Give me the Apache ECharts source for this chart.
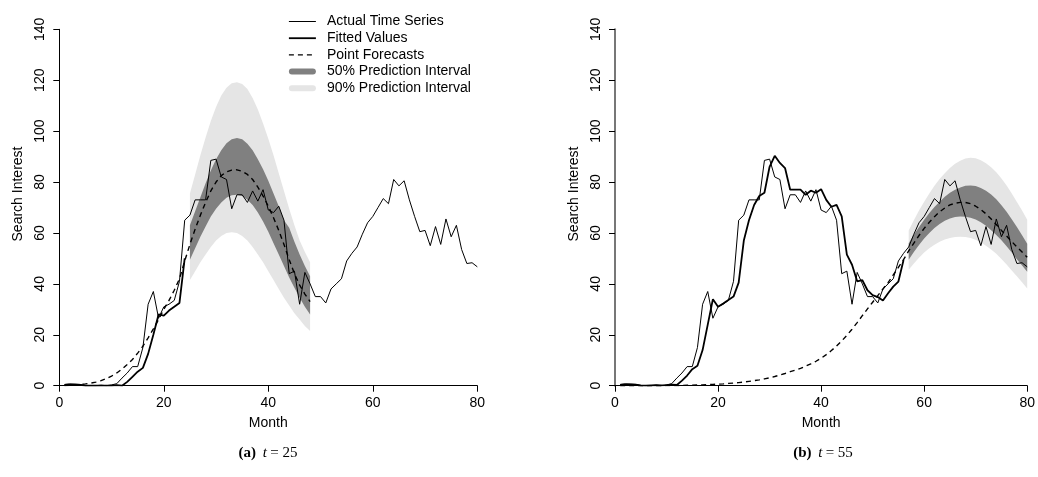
<!DOCTYPE html>
<html>
<head>
<meta charset="utf-8">
<script src="https://cdn.jsdelivr.net/npm/echarts@6/dist/echarts.min.js"></script>
<style>
  html, body { margin: 0; padding: 0; background: #fff; }
  #main { width: 1038px; height: 477px; }
</style>
</head>
<body>
<div id="main"></div>
<script>
// Search interest, months 1..80 (same series in both panels)
var actual = [0.5, 0.7, 0.6, 0.5, 0, 0, 0, 0.2, 0, 0.3,
  0.8, 3, 5, 7.5, 7.5, 15, 32, 37, 26.5, 31,
  32, 33.5, 41, 65, 67, 73, 73, 73, 88.5, 89,
  82, 81, 69.5, 75, 75, 72, 76.5, 72.5, 77, 69,
  68, 70.5, 65, 44, 45, 32, 44.5, 40, 35, 35,
  32.5, 38, 40, 42, 49, 52, 54.5, 59.5, 64, 66.5,
  70, 73.5, 71.5, 81, 78.5, 80.5, 73, 66.5, 60.5, 61,
  55, 62.5, 55.5, 65.5, 58.5, 63, 53.5, 48, 48.3, 46.7];

// panel (a): t = 25 -- fitted months 1..24, forecasts months 1..48, intervals months 25..48
var fitA = [0.3, 0.4, 0.4, 0.3, 0, 0, 0, 0, 0, 0,
  0.2, 0, 1.5, 3.5, 5.5, 7, 12.5, 20, 28, 27.5,
  29.5, 31, 32.5, 50];
var fcA = [0.1, 0.2, 0.3, 0.5, 0.7, 1, 1.4, 2, 2.8, 3.8,
  5, 6.5, 8.3, 10.3, 12.8, 15.5, 18.8, 22.3, 26, 30,
  33.5, 37.5, 42, 49, 55.5, 61.5, 67, 72, 76.5, 80,
  82.5, 84, 84.7, 84.8, 84.2, 83, 81, 78, 74.5, 70.5,
  66, 61, 55.5, 49.5, 44, 39.5, 36, 33];
var hi90A = [75.5, 83, 90.5, 97.5, 104, 109.5, 114, 117, 118.8, 119.2,
  118.5, 116.5, 113, 108.5, 103, 97, 90.5, 83.5, 76.5, 69.5,
  63, 57, 52.5, 48.5];
var lo90A = [41.5, 45, 48.5, 51.5, 54.5, 57, 58.8, 60, 60.3, 60,
  58.8, 57, 54.5, 51.5, 48.5, 45, 41.5, 38, 34.5, 31.5,
  28.5, 26, 23.5, 21.5];
var hi50A = [63, 68.5, 74, 79.5, 84.5, 89, 92.5, 95.2, 96.8, 97.3,
  96.8, 95, 92.5, 89, 85, 80.5, 75.5, 70.5, 65, 62,
  56.5, 51.5, 47, 43];
var lo50A = [49.5, 54, 58.5, 62.5, 66.5, 69.5, 72, 73.8, 74.8, 75,
  74.5, 73, 71, 68, 64.5, 60.5, 56, 51.5, 47, 42.5,
  38.5, 34.5, 31, 28];

// panel (b): t = 55 -- fitted months 1..56, forecasts months 1..80, intervals months 57..80
var fitB = [0.3, 0.5, 0.5, 0.4, 0.1, 0, 0.1, 0.2, 0.1, 0.2,
  0.4, 0.3, 2, 4, 6.5, 7.8, 14, 24, 34, 31,
  32.3, 33.7, 35, 40.5, 57, 65, 71, 74.5, 75.8, 86,
  90.3, 87.5, 85.5, 77, 77, 77, 75, 76.6, 75.8, 77.2,
  73, 70.3, 71, 66.5, 51.5, 47.5, 41, 41.5, 37.5, 35.6,
  34.8, 33.5, 36.3, 38.9, 40.9, 49.4];
var fcB = [0, 0, 0, 0, 0, 0, 0, 0, 0, 0.1,
  0.1, 0.1, 0.1, 0.2, 0.2, 0.3, 0.3, 0.4, 0.5, 0.6,
  0.7, 0.9, 1, 1.2, 1.4, 1.7, 2, 2.3, 2.7, 3.1,
  3.6, 4.2, 4.8, 5.5, 6.1, 6.8, 7.7, 8.6, 9.6, 10.8,
  12.2, 13.8, 15.6, 17.6, 19.8, 22.2, 24.8, 27.5, 30.2, 32.8,
  35.4, 38, 40.5, 43.5, 46.5, 49.5, 53, 56, 59, 61.8,
  64.2, 66.4, 68.3, 69.8, 71, 71.7, 72, 72, 71.5, 70.5,
  69.2, 67.5, 65.5, 63.3, 61, 58.8, 56.6, 54.5, 52.5, 50.5];
var hi90B = [61, 65, 68.8, 72.3, 75.5, 78.5, 81.2, 83.5, 85.5, 87.2,
  88.4, 89.2, 89.5, 89.3, 88.6, 87.4, 85.8, 83.8, 81.4, 78.6,
  75.5, 72.2, 68.8, 65.2];
var lo90B = [45.5, 48, 50.3, 52.3, 54, 55.4, 56.5, 57.4, 58, 58.4,
  58.5, 58.4, 58, 57.3, 56.3, 55, 53.5, 51.8, 49.8, 47.6,
  45.3, 43, 40.6, 38.2];
var hi50B = [56, 59.3, 62.3, 65.2, 67.8, 70.2, 72.3, 74.2, 75.8, 77,
  77.9, 78.5, 78.6, 78.4, 77.7, 76.6, 75.1, 73.2, 70.9, 68.3,
  65.4, 62.3, 59.1, 55.8];
var lo50B = [49.5, 52.5, 55.3, 57.8, 60, 61.9, 63.5, 64.8, 65.7, 66.3,
  66.5, 66.4, 66, 65.3, 64.2, 62.8, 61.1, 59.2, 57.1, 54.8,
  52.3, 49.7, 47.2, 44.8];

var yTicks = [0, 20, 40, 60, 80, 100, 120, 140];
var xTicks = [0, 20, 40, 60, 80];

var SANS = 'Liberation Sans';
var SERIF = 'Liberation Serif';
var DARK = '#808080', LIGHT = '#e5e5e5';
var FS = 14;
var CAPSULE = 'path://M3,0H24A3,3 0 0 1 24,6H3A3,3 0 0 1 3,0Z';

// [month, value] pairs starting at a given month
function pts(start, arr) {
  return arr.map(function (v, i) { return [start + i, v]; });
}

function xAxisOf(idx) {
  return {
    gridIndex: idx, type: 'value', min: xTicks[0], max: xTicks[xTicks.length - 1], interval: 20,
    name: 'Month', nameLocation: 'middle', nameGap: 30,
    nameTextStyle: { fontFamily: SANS, fontSize: FS, color: '#000' },
    axisLine: { show: true, lineStyle: { color: '#000', width: 1 } },
    axisTick: { show: true, length: 6, lineStyle: { color: '#000' } },
    axisLabel: { margin: 10, fontFamily: SANS, fontSize: FS, color: '#000', showMaxLabel: true },
    splitLine: { show: false }
  };
}
function yAxisOf(idx, lineColor, lineW) {
  return {
    gridIndex: idx, type: 'value', min: yTicks[0], max: yTicks[yTicks.length - 1], interval: 20,
    name: 'Search Interest', nameLocation: 'middle', nameGap: 34, nameRotate: 90,
    nameTextStyle: { fontFamily: SANS, fontSize: FS, color: '#000', padding: [0, 0, 0, 27] },
    axisLine: { show: true, lineStyle: { color: lineColor, width: lineW } },
    axisTick: { show: true, length: 6, lineStyle: { color: '#000' } },
    axisLabel: { rotate: 90, margin: 12, fontFamily: SANS, fontSize: FS, color: '#000' },
    splitLine: { show: false }
  };
}

// prediction interval as one filled polygon: upper edge forward, lower edge back
function bandSeries(idx, start, lo, hi, color, name) {
  var rows = lo.map(function (v, i) { return [start + i, v, hi[i]]; });
  return {
    name: name, type: 'custom', xAxisIndex: idx, yAxisIndex: idx, data: rows,
    encode: { x: 0, y: [1, 2] }, itemStyle: { color: color }, silent: true, z: 1,
    renderItem: function (params, api) {
      if (params.dataIndexInside !== 0) return null;
      var n = params.dataInsideLength, top = [], bot = [];
      for (var i = 0; i < n; i++) {
        top.push(api.coord([api.value(0, i), api.value(2, i)]));
        bot.unshift(api.coord([api.value(0, i), api.value(1, i)]));
      }
      return { type: 'polygon', shape: { points: top.concat(bot) }, style: { fill: color } };
    }
  };
}
function lineSeries(idx, name, start, arr, w, dashed) {
  return {
    name: name, type: 'line', xAxisIndex: idx, yAxisIndex: idx, data: pts(start, arr),
    symbol: 'none', color: '#000', z: 3,
    lineStyle: { color: '#000', width: w, type: dashed ? [5, 4] : 'solid' }
  };
}

var series = [
  bandSeries(0, 25, lo90A, hi90A, LIGHT, '90% Prediction Interval'),
  bandSeries(0, 25, lo50A, hi50A, DARK, '50% Prediction Interval'),
  bandSeries(1, 57, lo90B, hi90B, LIGHT, '90% Prediction Interval'),
  bandSeries(1, 57, lo50B, hi50B, DARK, '50% Prediction Interval'),
  lineSeries(0, 'Actual Time Series', 1, actual, 1, false),
  lineSeries(0, 'Fitted Values', 1, fitA, 1.8, false),
  lineSeries(0, 'Point Forecasts', 1, fcA, 1.4, true),
  lineSeries(1, 'Actual Time Series', 1, actual, 1, false),
  lineSeries(1, 'Fitted Values', 1, fitB, 1.8, false),
  lineSeries(1, 'Point Forecasts', 1, fcB, 1.4, true)
];

var chart = echarts.init(document.getElementById('main'), null, { renderer: 'canvas' });
var capRich = {
  b: { fontFamily: SERIF, fontWeight: 'bold', fontSize: 15, fill: '#000' },
  i: { fontFamily: SERIF, fontStyle: 'italic', fontSize: 15, fill: '#000' },
  n: { fontFamily: SERIF, fontSize: 15, fill: '#000' }
};
var hideDot = { opacity: 0 };
chart.setOption({
  animation: false,
  backgroundColor: '#fff',
  grid: [
    { left: 59.3, right: 560.7, top: 29.3, bottom: 91.3 },
    { left: 615, right: 5.7, top: 29.3, bottom: 91.3 }
  ],
  xAxis: [xAxisOf(0), xAxisOf(1)],
  yAxis: [yAxisOf(0, '#000', 1), yAxisOf(1, '#777', 2)],
  legend: {
    orient: 'vertical', left: 288, top: 14.5, padding: 0, itemWidth: 27, itemHeight: 6, itemGap: 2.7,
    selectedMode: false,
    textStyle: { fontFamily: SANS, fontSize: FS, color: '#000', padding: [0, 0, 0, 6] },
    data: [
      { name: 'Actual Time Series', itemStyle: hideDot, lineStyle: { width: 1 } },
      { name: 'Fitted Values', itemStyle: hideDot, lineStyle: { width: 1.8 } },
      { name: 'Point Forecasts', itemStyle: hideDot, lineStyle: { width: 1.4 } },
      { name: '50% Prediction Interval', icon: CAPSULE },
      { name: '90% Prediction Interval', icon: CAPSULE }
    ]
  },
  graphic: [
    { type: 'text', x: 268, y: 453, style: { text: '{b|(a)}  {i|t} {n|= 25}', rich: capRich, align: 'center', verticalAlign: 'middle' } },
    { type: 'text', x: 823, y: 453, style: { text: '{b|(b)}  {i|t} {n|= 55}', rich: capRich, align: 'center', verticalAlign: 'middle' } }
  ],
  series: series
});
</script>
</body>
</html>
